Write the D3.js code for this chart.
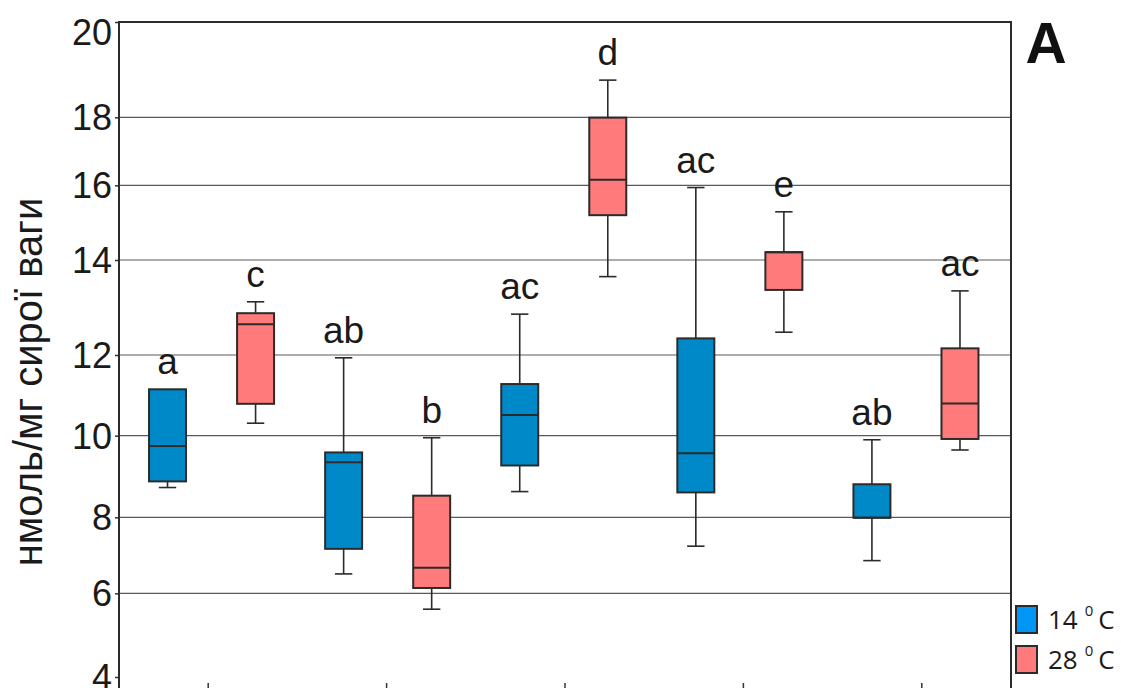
<!DOCTYPE html>
<html>
<head>
<meta charset="utf-8">
<script src="https://cdn.jsdelivr.net/npm/d3@7"></script>
<style>
  html, body { margin: 0; padding: 0; background: #fff; }
  svg { display: block; }
</style>
</head>
<body>
<svg id="chart" width="1121" height="688"></svg>
<script>
// ---- data ----
const groups = ["1", "2", "3", "4", "5"];
const temps = ["14 °C", "28 °C"];
const boxes = ["1-14", "1-28", "2-14", "2-28", "3-14", "3-28", "4-14", "4-28", "5-14", "5-28"];
const whiskerLow  = [8.73, 10.31, 6.51, 5.62, 8.63, 13.65, 7.24, 12.48, 6.86, 9.65];
const q1          = [8.88, 10.79, 7.17, 6.14, 9.27, 15.20, 8.61, 13.37, 7.99, 9.92];
const median      = [9.75, 12.65, 9.35, 6.67, 10.51, 16.16, 9.57, 14.21, 7.99, 10.80];
const q3          = [11.15, 12.88, 9.59, 8.53, 11.28, 17.99, 12.35, 14.21, 8.81, 12.14];
const whiskerHigh = [11.15, 13.12, 11.93, 9.95, 12.86, 18.78, 15.94, 15.29, 9.90, 13.35];
const letters = ["a", "c", "ab", "b", "ac", "d", "ac", "e", "ab", "ac"];
const yTicks = [4, 6, 8, 10, 12, 14, 16, 18, 20];
const yTitle = "нмоль/мг сирої ваги";
const panelLabel = "A";

// ---- layout ----
const svg = d3.select("#chart");
const plotL = 119, plotR = 1011, plotT = 22, plotB = 700;
const yPix = [677, 593.3, 517.3, 435.7, 355, 260, 185.3, 117.3, 22];
const y = d3.scaleLinear().domain(yTicks).range(yPix);
const x = d3.scaleBand().domain(boxes).range([123.5, 1004]).padding(0);
const xg = d3.scaleBand().domain(groups).range([plotL, plotR]);
const colors = d3.scaleOrdinal().domain(temps).range(["#0089c9", "#ff7b7b"]);
const legendColors = d3.scaleOrdinal().domain(temps).range(["#0096f5", "#ff7b7b"]);
const boxW = x.bandwidth() * 0.42;
const capW = boxW * 0.47;
const stroke = "#2b2b2b";
const font = "'Liberation Sans', Arial, Helvetica, sans-serif";

// gridlines
svg.append("g").selectAll("line").data(yTicks.filter(v => v !== 20 && v !== 4)).join("line")
  .attr("x1", plotL).attr("x2", plotR)
  .attr("y1", d => y(d)).attr("y2", d => y(d))
  .attr("stroke", "#5a5a5a").attr("stroke-width", 1.2);

// left axis
const yAxis = d3.axisLeft(y).tickValues(yTicks).tickSize(4).tickFormat("");
const ya = svg.append("g").attr("transform", `translate(${plotL},0)`).call(yAxis);
ya.select(".domain").remove();
ya.selectAll("line").attr("stroke", "#333").attr("stroke-width", 1.5);

svg.append("g").selectAll("text").data(yTicks).join("text")
  .attr("x", 112)
  .attr("y", d => Math.max(y(d), plotT + 10))
  .attr("dy", "0.36em")
  .attr("text-anchor", "end")
  .attr("font-family", font)
  .attr("font-size", 36)
  .attr("fill", "#1a1a1a")
  .text(d => d);

// bottom group ticks
const xAxis = d3.axisTop(xg).tickSize(6).tickFormat("");
const xa = svg.append("g").attr("transform", `translate(0,${689})`).call(xAxis);
xa.select(".domain").remove();
xa.selectAll("line").attr("stroke", "#333").attr("stroke-width", 1.5);

// frame
svg.append("path")
  .attr("d", `M${plotL},${plotB}V${plotT}H${plotR}V${plotB}`)
  .attr("fill", "none").attr("stroke", "#2b2b2b").attr("stroke-width", 2);

// boxes
const bg = svg.append("g").selectAll("g").data(boxes).join("g")
  .attr("transform", (d) => `translate(${x(d) + x.bandwidth() / 2},0)`);

bg.each(function(d, i) {
  const g = d3.select(this);
  const t = temps[i % 2];
  if (whiskerHigh[i] > q3[i]) {
    g.append("line").attr("x1", 0).attr("x2", 0)
      .attr("y1", y(whiskerHigh[i])).attr("y2", y(q3[i]))
      .attr("stroke", stroke).attr("stroke-width", 1.6);
    g.append("line").attr("x1", -capW / 2).attr("x2", capW / 2)
      .attr("y1", y(whiskerHigh[i])).attr("y2", y(whiskerHigh[i]))
      .attr("stroke", stroke).attr("stroke-width", 1.6);
  }
  if (whiskerLow[i] < q1[i]) {
    g.append("line").attr("x1", 0).attr("x2", 0)
      .attr("y1", y(q1[i])).attr("y2", y(whiskerLow[i]))
      .attr("stroke", stroke).attr("stroke-width", 1.6);
    g.append("line").attr("x1", -capW / 2).attr("x2", capW / 2)
      .attr("y1", y(whiskerLow[i])).attr("y2", y(whiskerLow[i]))
      .attr("stroke", stroke).attr("stroke-width", 1.6);
  }
  g.append("rect")
    .attr("x", -boxW / 2).attr("width", boxW)
    .attr("y", y(q3[i])).attr("height", y(q1[i]) - y(q3[i]))
    .attr("fill", colors(t)).attr("stroke", stroke).attr("stroke-width", 2);
  g.append("line").attr("x1", -boxW / 2).attr("x2", boxW / 2)
    .attr("y1", y(median[i])).attr("y2", y(median[i]))
    .attr("stroke", stroke).attr("stroke-width", 2);
  g.append("text")
    .attr("x", 0).attr("y", y(whiskerHigh[i]) - 15)
    .attr("text-anchor", "middle")
    .attr("font-family", font)
    .attr("font-size", 37)
    .attr("fill", "#1a1a1a")
    .text(letters[i]);
});

// y title
svg.append("text")
  .attr("transform", "translate(42,382) rotate(-90)")
  .attr("text-anchor", "middle")
  .attr("font-family", font)
  .attr("font-size", 40)
  .attr("fill", "#1a1a1a")
  .text(yTitle);

// panel label
svg.append("text")
  .attr("x", 1046).attr("y", 63)
  .attr("text-anchor", "middle")
  .attr("font-family", font)
  .attr("font-weight", "bold")
  .attr("font-size", 57)
  .attr("fill", "#111")
  .text(panelLabel);

// legend
const lg = svg.append("g").selectAll("g").data(temps).join("g")
  .attr("transform", (d, i) => `translate(1016,${606 + i * 40})`);
lg.append("rect").attr("x", 0).attr("y", 0).attr("width", 21).attr("height", 27)
  .attr("fill", d => legendColors(d)).attr("stroke", stroke).attr("stroke-width", 2);
const lt = lg.append("text")
  .attr("x", 32).attr("y", 23)
  .attr("font-family", "'Open Sans', sans-serif")
  .attr("font-size", 26)
  .attr("fill", "#1a1a1a");
lt.append("tspan").text(d => d.split(" ")[0]);
lt.append("tspan").attr("dx", 7).attr("dy", -13).attr("font-size", 15).text("0");
lt.append("tspan").attr("dx", 5).attr("dy", 13).text("C");
</script>
</body>
</html>
